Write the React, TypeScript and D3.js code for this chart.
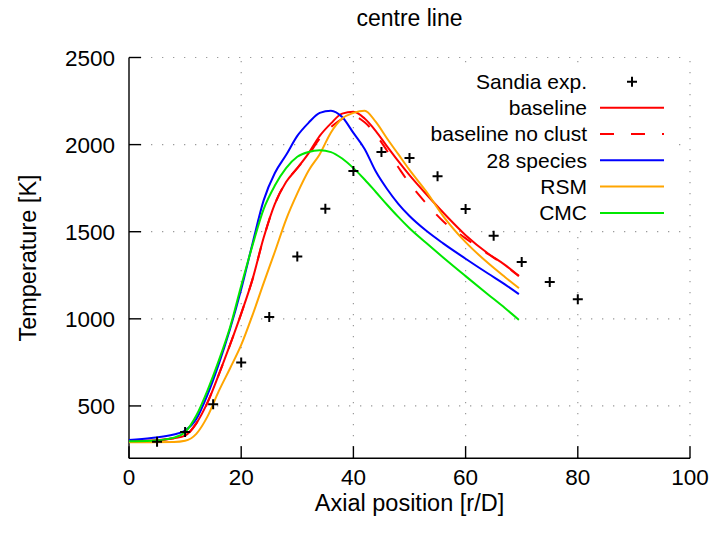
import React from "react";
import * as d3 from "d3";

// Axial stations of the simulated profiles [r/D]
const axialPos = [0, 4, 8, 10, 12, 14, 16, 18, 20, 22, 24, 26, 28, 30, 32, 34, 36, 38, 40, 42, 44, 46, 48, 50, 53, 56, 60, 64, 67, 69.5];

// Centre-line temperature [K] for each model
const baseline = [300, 302, 315, 330, 400, 520, 680, 850, 1030, 1225, 1465, 1660, 1785, 1865, 1950, 2050, 2122, 2178, 2188, 2150, 2078, 1990, 1905, 1825, 1715, 1610, 1480, 1375, 1310, 1247];
const baselineNoClust = [300, 302, 315, 330, 400, 520, 680, 850, 1030, 1225, 1465, 1660, 1785, 1865, 1940, 2035, 2100, 2148, 2163, 2128, 2058, 1965, 1870, 1778, 1662, 1560, 1462, 1372, 1307, 1245];
const species28 = [305, 316, 336, 358, 425, 565, 740, 940, 1170, 1430, 1680, 1837, 1940, 2050, 2125, 2182, 2195, 2158, 2067, 1975, 1845, 1745, 1660, 1590, 1505, 1433, 1345, 1260, 1198, 1142];
const rsm = [292, 292, 293, 300, 340, 440, 585, 715, 850, 1020, 1205, 1385, 1570, 1720, 1850, 1945, 2070, 2150, 2182, 2195, 2130, 2035, 1945, 1855, 1730, 1590, 1440, 1320, 1240, 1176];
const cmc = [297, 300, 318, 350, 445, 590, 760, 950, 1190, 1420, 1630, 1765, 1865, 1930, 1958, 1967, 1957, 1920, 1865, 1800, 1728, 1655, 1585, 1520, 1435, 1352, 1245, 1140, 1062, 994];

// Sandia measurements
const sandiaPos = [5, 10, 15, 20, 25, 30, 35, 40, 45, 50, 55, 60, 65, 70, 75, 80];
const sandiaT = [295, 350, 510, 749, 1010, 1358, 1632, 1848, 1958, 1923, 1818, 1630, 1477, 1326, 1211, 1113];

const xTicks = [0, 20, 40, 60, 80, 100];
const yTicks = [500, 1000, 1500, 2000, 2500];

const seriesNames = ["baseline", "baseline no clust", "28 species", "RSM", "CMC"];
const seriesValues = [baseline, baselineNoClust, species28, rsm, cmc];
const seriesColors = ["#ff0000", "#ff0000", "#0000ff", "#ffa500", "#00e800"];
const seriesDash = [null, "14 17", null, null, null];

const W = 715;
const H = 541;
const FONT = "'Liberation Sans', Arial, sans-serif";

export default function App() {
  const x = d3.scaleLinear().domain([0, 100]).range([129, 690]);
  const y = d3.scaleLinear().domain([200, 2500]).range([458.2, 57.5]);

  const line = d3
    .line<[number, number]>()
    .x((d) => x(d[0]))
    .y((d) => y(d[1]))
    .curve(d3.curveMonotoneX);

  const gridStyle = { stroke: "#9a9a9a", strokeWidth: 1.2, strokeDasharray: "1.3 9.7" };

  // key geometry
  const legTextX = 587;
  const legSample = [600, 664];
  const legRows = [81.7, 107.8, 134, 160.3, 186.6, 213];
  const legendFont = 21;

  const plus = (cx: number, cy: number, key: string) => (
    <path key={key} d={`M${cx - 5},${cy}H${cx + 5}M${cx},${cy - 5}V${cy + 5}`} stroke="#000" strokeWidth={2} fill="none" />
  );

  return (
    <svg
      width={W}
      height={H}
      viewBox={`0 0 ${W} ${H}`}
      style={{ position: "absolute", left: 0, top: 0, background: "#fff" }}
      fontFamily={FONT}
    >
      <rect x={0} y={0} width={W} height={H} fill="#fff" />

      {/* grid */}
      {yTicks.map((t) => (
        <line key={`gy${t}`} x1={x(0)} x2={x(100)} y1={y(t)} y2={y(t)} {...gridStyle} />
      ))}
      {xTicks.filter((t) => t > 0).map((t) => (
        <line key={`gx${t}`} x1={x(t)} x2={x(t)} y1={y(200)} y2={y(2500)} {...gridStyle} />
      ))}

      {/* key background */}
      <rect x={364} y={70} width={311} height={158} fill="#fff" />

      {/* axes */}
      <line x1={x(0)} x2={x(0)} y1={y(200)} y2={y(2500)} stroke="#000" strokeWidth={1.4} />
      <line x1={x(0)} x2={x(100)} y1={y(200)} y2={y(200)} stroke="#000" strokeWidth={1.4} />
      {yTicks.map((t) => (
        <line key={`ty${t}`} x1={x(0)} x2={x(0) + 12} y1={y(t)} y2={y(t)} stroke="#000" strokeWidth={1.4} />
      ))}
      {xTicks.map((t) => (
        <line key={`tx${t}`} x1={x(t)} x2={x(t)} y1={y(200)} y2={y(200) - 12} stroke="#000" strokeWidth={1.4} />
      ))}

      {/* tick labels */}
      {yTicks.map((t) => (
        <text key={`ly${t}`} x={115} y={y(t) + 8} textAnchor="end" fontSize={22.5} fill="#000">
          {t}
        </text>
      ))}
      {xTicks.map((t) => (
        <text key={`lx${t}`} x={x(t)} y={485} textAnchor="middle" fontSize={22.5} fill="#000">
          {t}
        </text>
      ))}

      {/* axis titles */}
      <text x={409.5} y={511} textAnchor="middle" fontSize={23.5} fill="#000">
        Axial position [r/D]
      </text>
      <text transform="translate(35.5,258) rotate(-90)" textAnchor="middle" fontSize={23.5} fill="#000">
        Temperature [K]
      </text>
      <text x={409.5} y={26} textAnchor="middle" fontSize={23} fill="#000">
        centre line
      </text>

      {/* model curves */}
      {seriesValues.map((vals, i) => (
        <path
          key={`s${i}`}
          d={line(axialPos.map((p, j) => [p, vals[j]] as [number, number])) || ""}
          fill="none"
          stroke={seriesColors[i]}
          strokeWidth={2}
          strokeDasharray={seriesDash[i] || undefined}
          strokeLinejoin="round"
        />
      ))}

      {/* measurements */}
      {sandiaPos.map((p, i) => plus(x(p), y(sandiaT[i]), `p${i}`))}

      {/* key */}
      <text x={legTextX} y={legRows[0] + 7.4} textAnchor="end" fontSize={legendFont} fill="#000">
        Sandia exp.
      </text>
      {plus((legSample[0] + legSample[1]) / 2, legRows[0], "legplus")}
      {seriesNames.map((name, i) => (
        <g key={`leg${i}`}>
          <text x={legTextX} y={legRows[i + 1] + 7.4} textAnchor="end" fontSize={legendFont} fill="#000">
            {name}
          </text>
          <line
            x1={legSample[0]}
            x2={legSample[1]}
            y1={legRows[i + 1]}
            y2={legRows[i + 1]}
            stroke={seriesColors[i]}
            strokeWidth={2}
            strokeDasharray={seriesDash[i] || undefined}
          />
        </g>
      ))}
    </svg>
  );
}
